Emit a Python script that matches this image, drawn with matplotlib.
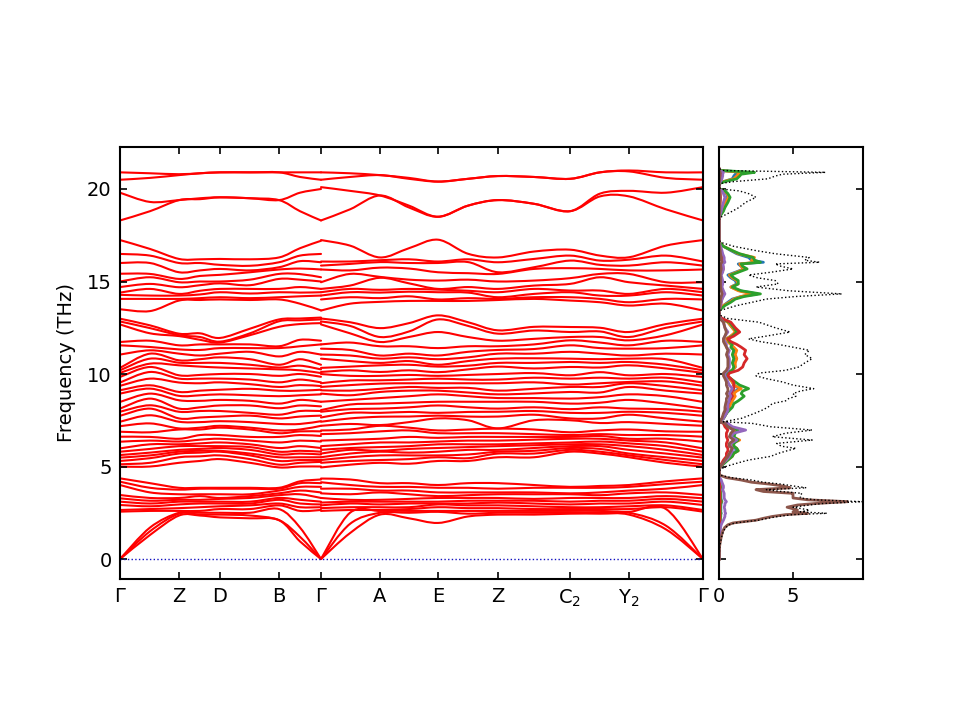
import numpy as np
import matplotlib
matplotlib.use("Agg")
import matplotlib.pyplot as plt
from matplotlib.path import Path
from matplotlib.patches import PathPatch

# ---------------- band-structure data (THz) ----------------
KPATH_LABELS = ["Γ", "Z", "D", "B", "Γ", "A", "E", "Z", "C$_2$", "Y$_2$", "Γ"]
KPATH_NODES = [0, 59, 100, 159, 201, 260, 318, 378, 450, 509, 583]
# sampled k columns (nodes + midpoints); Γ at 201 appears twice (LO-TO jump)
K_COLS = [0, 30, 59, 80, 100, 130, 159, 180, 201,
          201, 230, 260, 289, 318, 348, 378, 414, 450, 480, 509, 546, 583]
SEG_BREAK = 9

TOP_BANDS = [
    [18.3, 19.8, 20.5, 20.9], [18.8, 19.3, 20.6, 20.85], [19.4, 19.4, 20.75, 20.8],
    [19.45, 19.5, 20.85, 20.85], [19.55, 19.55, 20.9, 20.9], [19.5, 19.5, 20.9, 20.9],
    [19.4, 19.4, 20.9, 20.9], [18.8, 19.8, 20.65, 20.9], [18.3, 20.0, 20.5, 20.9],
    [18.3, 20.1, 20.5, 20.9], [18.9, 19.9, 20.65, 20.85], [19.65, 19.65, 20.75, 20.75],
    [19.0, 19.1, 20.55, 20.6], [18.5, 18.5, 20.4, 20.4], [19.1, 19.1, 20.55, 20.55],
    [19.4, 19.4, 20.7, 20.7], [19.2, 19.2, 20.65, 20.65], [18.8, 18.8, 20.55, 20.55],
    [19.6, 19.75, 20.9, 20.9], [19.6, 19.9, 20.95, 21.0], [18.9, 19.8, 20.6, 20.9],
    [18.3, 20.1, 20.5, 20.9],
]

HIGH_BANDS = [
    [13.5, 14.06, 14.28, 14.4, 14.7, 15.0, 15.42, 16.0, 16.49, 17.24],
    [13.4, 14.06, 14.24, 14.6, 14.87, 15.23, 15.41, 16.0, 16.4, 16.76],
    [13.97, 14.06, 14.24, 14.33, 14.69, 14.96, 15.14, 15.5, 16.0, 16.22],
    [14.0, 14.1, 14.3, 14.5, 14.8, 15.0, 15.3, 15.6, 16.0, 16.2],
    [14.03, 14.15, 14.42, 14.6, 14.9, 15.0, 15.36, 15.68, 15.9, 16.22],
    [14.0, 14.1, 14.35, 14.6, 14.8, 15.1, 15.5, 15.6, 15.85, 16.2],
    [14.03, 14.15, 14.42, 14.6, 15.14, 15.41, 15.65, 15.77, 16.04, 16.3],
    [13.8, 14.2, 14.4, 14.7, 15.1, 15.4, 15.7, 16.1, 16.4, 16.8],
    [13.44, 14.24, 14.42, 14.6, 15.0, 15.23, 15.65, 16.04, 16.49, 17.2],
    [13.43, 14.03, 14.24, 14.42, 14.6, 14.96, 15.65, 15.86, 16.08, 17.24],
    [13.8, 14.15, 14.42, 14.6, 14.78, 15.41, 15.6, 15.95, 16.08, 16.94],
    [13.9, 14.1, 14.4, 14.55, 15.2, 15.25, 15.75, 16.05, 16.15, 16.3],
    [13.95, 14.2, 14.45, 14.6, 14.9, 15.1, 15.7, 16.0, 16.2, 16.8],
    [13.95, 14.03, 14.42, 14.56, 14.6, 15.05, 15.5, 16.0, 16.08, 17.26],
    [13.95, 14.1, 14.4, 14.5, 14.7, 15.1, 15.45, 16.05, 16.2, 16.5],
    [14.0, 14.06, 14.15, 14.42, 14.6, 15.0, 15.41, 15.5, 16.04, 16.3],
    [14.06, 14.15, 14.33, 14.6, 14.78, 15.05, 15.68, 15.77, 16.22, 16.62],
    [13.97, 14.15, 14.42, 14.51, 14.87, 15.18, 15.72, 16.13, 16.4, 16.72],
    [13.88, 14.06, 14.24, 14.51, 15.23, 15.41, 15.68, 15.9, 16.13, 16.4],
    [13.7, 13.88, 14.24, 14.33, 14.96, 15.41, 15.6, 15.86, 16.18, 16.31],
    [13.8, 14.06, 14.42, 14.6, 14.78, 14.96, 15.6, 16.04, 16.4, 16.94],
    [13.43, 14.03, 14.24, 14.42, 14.6, 14.96, 15.65, 15.86, 16.08, 17.24],
]

MID_BANDS = [
    [7.18, 7.42, 7.74, 7.96, 8.13, 8.49, 8.94, 9.12, 9.36, 9.54, 9.84, 10.06, 10.2, 10.33, 11.05, 11.55, 11.73, 12.68, 12.84, 12.99],
    [7.33, 7.77, 8.13, 8.31, 8.67, 8.94, 9.21, 9.39, 9.75, 10.11, 10.38, 10.56, 10.83, 11.1, 11.28, 11.46, 11.8, 12.2, 12.48, 12.63],
    [7.06, 7.42, 7.6, 7.96, 8.13, 8.58, 8.82, 9.03, 9.54, 9.75, 9.93, 10.47, 10.61, 10.74, 11.1, 11.33, 11.55, 12.05, 12.1, 12.18],
    [7.1, 7.4, 7.65, 8.0, 8.2, 8.55, 8.85, 9.1, 9.5, 9.75, 9.95, 10.4, 10.6, 10.8, 11.0, 11.3, 11.6, 11.85, 12.0, 12.2],
    [7.2, 7.45, 7.7, 8.0, 8.3, 8.6, 8.9, 9.15, 9.55, 9.75, 10.0, 10.35, 10.6, 10.9, 11.1, 11.4, 11.6, 11.7, 11.75, 11.95],
    [7.1, 7.4, 7.75, 7.9, 8.3, 8.55, 8.85, 9.2, 9.45, 9.7, 10.0, 10.3, 10.5, 10.8, 11.2, 11.4, 11.6, 12.1, 12.2, 12.45],
    [6.95, 7.3, 7.6, 7.8, 8.15, 8.4, 8.8, 9.1, 9.3, 9.55, 9.9, 10.25, 10.35, 10.5, 10.95, 11.4, 11.5, 12.55, 12.85, 12.95],
    [7.0, 7.3, 7.7, 8.0, 8.3, 8.6, 8.85, 9.1, 9.4, 9.7, 10.0, 10.2, 10.45, 10.8, 11.2, 11.5, 11.85, 12.7, 12.9, 13.0],
    [7.2, 7.45, 7.75, 8.0, 8.25, 8.5, 8.9, 9.15, 9.35, 9.55, 9.85, 10.05, 10.25, 10.5, 11.05, 11.6, 11.8, 12.75, 12.95, 13.05],
    [7.2, 7.42, 7.65, 7.96, 8.05, 8.5, 8.94, 9.12, 9.3, 9.5, 10.0, 10.11, 10.33, 10.83, 11.05, 11.37, 11.6, 12.68, 12.84, 13.0],
    [7.3, 7.6, 7.9, 8.1, 8.35, 8.6, 8.85, 9.1, 9.4, 9.65, 9.9, 10.2, 10.4, 10.7, 11.0, 11.3, 11.7, 12.2, 12.6, 12.8],
    [7.24, 7.69, 7.9, 8.13, 8.4, 8.7, 9.03, 9.2, 9.48, 9.66, 9.9, 10.11, 10.47, 10.6, 10.83, 11.0, 11.5, 11.73, 12.0, 12.48],
    [7.4, 7.7, 7.95, 8.2, 8.45, 8.8, 9.1, 9.3, 9.5, 9.7, 9.95, 10.2, 10.5, 10.7, 10.9, 11.1, 11.5, 12.0, 12.3, 12.75],
    [7.6, 7.75, 7.9, 8.3, 8.5, 8.9, 9.1, 9.25, 9.5, 9.75, 9.9, 10.1, 10.4, 10.5, 10.8, 11.0, 11.4, 12.27, 12.95, 13.17],
    [7.5, 7.7, 7.95, 8.2, 8.5, 8.8, 9.0, 9.25, 9.5, 9.7, 9.95, 10.25, 10.45, 10.7, 10.9, 11.2, 11.5, 12.0, 12.6, 12.8],
    [7.06, 7.7, 7.96, 8.13, 8.5, 8.7, 8.9, 9.1, 9.5, 9.7, 10.0, 10.4, 10.6, 10.83, 11.1, 11.3, 11.5, 11.8, 12.18, 12.36],
    [7.5, 7.8, 8.0, 8.2, 8.5, 8.7, 8.95, 9.2, 9.55, 9.8, 10.05, 10.3, 10.6, 10.85, 11.1, 11.35, 11.6, 11.9, 12.35, 12.55],
    [7.5, 7.6, 7.9, 8.1, 8.4, 8.67, 9.03, 9.3, 9.43, 9.75, 9.93, 10.38, 10.65, 10.83, 11.2, 11.55, 11.82, 12.0, 12.27, 12.54],
    [7.35, 7.6, 7.9, 8.2, 8.45, 8.75, 9.0, 9.3, 9.5, 9.8, 10.1, 10.35, 10.6, 10.8, 11.1, 11.4, 11.7, 12.0, 12.3, 12.5],
    [7.4, 7.8, 7.96, 8.13, 8.6, 8.9, 9.3, 9.5, 9.57, 9.75, 9.93, 10.47, 10.65, 10.83, 11.0, 11.37, 11.55, 11.82, 12.0, 12.27],
    [7.3, 7.6, 7.9, 8.1, 8.4, 8.8, 9.1, 9.35, 9.6, 9.8, 10.0, 10.3, 10.5, 10.8, 11.1, 11.4, 11.8, 12.1, 12.5, 12.7],
    [7.2, 7.42, 7.74, 7.96, 8.13, 8.49, 8.94, 9.12, 9.36, 9.54, 9.84, 10.06, 10.2, 10.33, 11.05, 11.55, 11.73, 12.68, 12.84, 12.99],
]

LOWOPT_BANDS = [
    [4.99, 5.12, 5.3, 5.48, 5.62, 5.8, 5.98, 6.34, 6.61, 6.88],
    [5.0, 5.2, 5.45, 5.6, 5.75, 5.95, 6.2, 6.4, 6.6, 6.85],
    [5.2, 5.5, 5.7, 5.8, 5.9, 6.1, 6.2, 6.35, 6.5, 7.0],
    [5.3, 5.55, 5.75, 5.85, 5.95, 6.1, 6.25, 6.45, 6.7, 7.0],
    [5.4, 5.6, 5.8, 5.85, 6.0, 6.1, 6.3, 6.5, 6.7, 7.1],
    [5.2, 5.4, 5.6, 5.7, 5.9, 6.05, 6.2, 6.4, 6.6, 7.0],
    [4.95, 5.1, 5.3, 5.5, 5.65, 5.8, 6.0, 6.3, 6.6, 6.8],
    [5.0, 5.2, 5.35, 5.5, 5.7, 5.85, 6.1, 6.4, 6.7, 6.9],
    [5.0, 5.25, 5.35, 5.5, 5.65, 5.8, 6.0, 6.35, 6.65, 6.9],
    [4.95, 5.2, 5.35, 5.5, 5.7, 5.9, 6.1, 6.4, 6.75, 6.95],
    [5.1, 5.3, 5.5, 5.7, 5.9, 6.0, 6.2, 6.45, 6.8, 7.0],
    [5.2, 5.35, 5.6, 5.8, 5.85, 6.05, 6.3, 6.5, 6.9, 7.2],
    [5.15, 5.4, 5.6, 5.75, 5.95, 6.1, 6.3, 6.6, 6.95, 7.1],
    [5.3, 5.5, 5.6, 5.8, 6.0, 6.2, 6.35, 6.55, 6.8, 6.95],
    [5.3, 5.45, 5.65, 5.9, 6.05, 6.2, 6.4, 6.6, 6.8, 7.0],
    [5.5, 5.7, 5.8, 5.9, 6.1, 6.2, 6.4, 6.6, 6.8, 7.05],
    [5.5, 5.7, 5.85, 6.0, 6.15, 6.25, 6.45, 6.6, 6.75, 7.0],
    [5.8, 5.9, 6.0, 6.1, 6.2, 6.3, 6.5, 6.6, 6.7, 6.85],
    [5.7, 5.8, 5.95, 6.1, 6.2, 6.35, 6.5, 6.65, 6.75, 6.95],
    [5.5, 5.6, 5.7, 5.9, 6.1, 6.25, 6.4, 6.5, 6.7, 7.0],
    [5.2, 5.35, 5.5, 5.7, 5.9, 6.1, 6.3, 6.5, 6.7, 6.9],
    [4.99, 5.12, 5.3, 5.48, 5.62, 5.8, 5.98, 6.34, 6.61, 6.88],
]

LOW_BANDS = [
    [0, 0, 0, 2.56, 2.65, 2.92, 3.1, 3.28, 3.46, 4.0, 4.18, 4.36],
    [1.3, 1.5, 1.7, 2.6, 2.7, 2.85, 3.0, 3.15, 3.3, 3.6, 3.85, 4.1],
    [2.35, 2.45, 2.5, 2.6, 2.75, 2.95, 3.1, 3.2, 3.3, 3.5, 3.75, 3.85],
    [2.35, 2.4, 2.5, 2.6, 2.8, 3.0, 3.1, 3.2, 3.4, 3.5, 3.8, 3.85],
    [2.25, 2.4, 2.5, 2.7, 2.85, 3.0, 3.1, 3.25, 3.3, 3.5, 3.8, 3.85],
    [2.2, 2.35, 2.5, 2.7, 2.9, 3.0, 3.1, 3.3, 3.4, 3.5, 3.8, 3.85],
    [2.1, 2.1, 2.7, 2.9, 3.0, 3.2, 3.3, 3.45, 3.55, 3.7, 3.8, 3.85],
    [0.95, 1.2, 1.7, 2.6, 2.8, 3.0, 3.2, 3.5, 3.7, 3.9, 4.1, 4.2],
    [0, 0, 0, 2.65, 2.8, 2.95, 3.1, 3.3, 3.6, 3.9, 4.1, 4.3],
    [0, 0, 0, 2.6, 2.75, 2.9, 3.05, 3.3, 3.55, 3.8, 4.15, 4.35],
    [1.4, 1.9, 2.5, 2.65, 2.8, 3.0, 3.1, 3.2, 3.5, 3.8, 4.0, 4.3],
    [2.4, 2.5, 2.6, 2.65, 2.8, 2.95, 3.1, 3.2, 3.6, 3.7, 3.9, 4.1],
    [2.2, 2.5, 2.6, 2.7, 2.8, 3.0, 3.1, 3.25, 3.5, 3.7, 3.9, 4.1],
    [1.95, 2.55, 2.6, 2.8, 2.95, 3.0, 3.1, 3.3, 3.4, 3.6, 3.85, 4.0],
    [2.3, 2.45, 2.6, 2.75, 2.9, 3.0, 3.15, 3.3, 3.45, 3.6, 3.85, 4.1],
    [2.4, 2.5, 2.6, 2.75, 2.9, 3.05, 3.15, 3.3, 3.5, 3.6, 3.8, 4.1],
    [2.4, 2.5, 2.6, 2.7, 2.85, 3.0, 3.15, 3.25, 3.5, 3.6, 3.85, 4.0],
    [2.45, 2.5, 2.6, 2.7, 2.8, 2.95, 3.1, 3.3, 3.5, 3.55, 3.85, 3.9],
    [2.45, 2.5, 2.6, 2.7, 2.8, 3.0, 3.15, 3.3, 3.45, 3.6, 3.85, 3.95],
    [2.4, 2.5, 2.55, 2.7, 2.85, 3.0, 3.15, 3.3, 3.55, 3.7, 3.9, 4.0],
    [1.6, 1.8, 2.7, 2.8, 2.9, 3.1, 3.25, 3.4, 3.6, 3.8, 4.05, 4.2],
    [0, 0, 0, 2.56, 2.65, 2.92, 3.1, 3.28, 3.46, 4.0, 4.18, 4.36],
]

# ---------------- DOS data ----------------
DOS_FREQ = [
    0.0, 0.7, 1.2, 1.5, 1.7, 1.85, 1.95, 2.1, 2.2, 2.3, 2.4, 2.47, 2.55, 2.65, 2.8, 2.92,
    3.0, 3.1, 3.2, 3.3, 3.45, 3.55, 3.65, 3.75, 3.85, 3.95, 4.05, 4.15, 4.27, 4.4, 4.54, 4.7,
    4.85, 5.0, 5.2, 5.35, 5.55, 5.71, 5.85, 5.98, 6.1, 6.25, 6.43, 6.61, 6.8, 6.97, 7.15, 7.33, 7.42,
    7.6, 7.87, 8.04, 8.2, 8.4, 8.55, 8.67, 8.8, 8.94, 9.08, 9.21, 9.4, 9.57, 9.75, 9.9, 10.05,
    10.2, 10.38, 10.6, 10.83, 11.05, 11.28, 11.45, 11.6, 11.75, 11.9, 12.05, 12.27, 12.5, 12.8, 13.0, 13.2,
    13.44, 13.7, 13.88, 14.05, 14.19, 14.33, 14.5, 14.7, 14.87, 15.05, 15.2, 15.35,
    15.5, 15.68, 15.82, 15.95, 16.04, 16.15, 16.3, 16.5, 16.67, 16.9, 17.12, 17.3,
    18.3, 18.47, 18.8, 19.0, 19.28, 19.55, 19.75, 19.9, 20.0, 20.15, 20.3, 20.4, 20.55, 20.7, 20.8, 20.9, 21.0, 21.1,
]
DOS_TOTAL = [
    0.0, 0.05, 0.18, 0.3, 0.45, 0.7, 1.1, 2.7, 3.3, 4.0, 5.0, 7.3, 5.5, 6.1, 5.0, 6.1,
    7.0, 9.7, 6.5, 5.5, 5.5, 5.6, 4.2, 3.2, 5.9, 5.0, 4.2, 3.0, 2.2, 0.8, 0.05, 0.0,
    0.1, 0.45, 1.3, 2.0, 3.5, 4.0, 4.6, 5.2, 4.2, 3.9, 6.3, 3.6, 4.5, 6.3, 3.5, 2.25, 0.3,
    1.5, 2.4, 2.9, 3.3, 3.6, 4.5, 4.7, 5.2, 5.0, 5.5, 6.4, 5.0, 4.3, 3.2, 2.5, 2.7,
    4.5, 5.4, 5.8, 6.3, 5.8, 6.1, 5.0, 4.0, 2.8, 2.0, 3.2, 4.8, 3.8, 2.7, 0.6, 0.0,
    0.1, 1.2, 2.25, 3.2, 5.2, 8.3, 4.7, 2.5, 4.0, 3.8, 2.6, 2.0,
    3.5, 5.0, 4.2, 3.8, 6.8, 5.8, 6.1, 3.8, 2.5, 1.0, 0.1, 0.0,
    0.0, 0.1, 0.9, 1.35, 1.8, 2.5, 2.0, 1.35, 0.1, 0.0, 0.1, 1.0, 3.3, 3.8, 4.3, 7.2, 0.3, 0.0,
]
PDOS_C0 = [
    0, 0.02, 0.04, 0.05, 0.06, 0.07, 0.08, 0.1, 0.1, 0.12, 0.12, 0.15, 0.12, 0.13, 0.12, 0.13,
    0.14, 0.2, 0.15, 0.13, 0.13, 0.13, 0.1, 0.08, 0.12, 0.1, 0.08, 0.07, 0.05, 0.02, 0, 0,
    0.02, 0.1, 0.3, 0.5, 0.8, 0.9, 1.2, 1.1, 0.9, 0.8, 1.2, 0.8, 1.0, 1.0, 0.6, 0.4, 0.05,
    0.3, 0.5, 0.6, 0.7, 0.7, 0.9, 0.9, 1.0, 1.0, 1.1, 1.4, 1.0, 0.9, 0.7, 0.5, 0.5,
    0.9, 1.1, 1.0, 1.2, 1.0, 1.1, 0.9, 0.8, 0.6, 0.5, 0.8, 1.2, 0.9, 0.6, 0.15, 0,
    0.02, 0.3, 0.6, 0.9, 1.5, 2.6, 1.4, 0.8, 1.2, 1.1, 0.8, 0.6,
    1.1, 1.7, 1.5, 1.3, 3.0, 2.2, 2.0, 1.2, 0.8, 0.3, 0.02, 0,
    0, 0.02, 0.2, 0.3, 0.4, 0.6, 0.5, 0.3, 0.02, 0, 0.02, 0.3, 0.9, 1.0, 1.1, 1.8, 0.1, 0,
]
PDOS_C1 = [
    0, 0.02, 0.03, 0.04, 0.05, 0.06, 0.07, 0.08, 0.08, 0.1, 0.1, 0.12, 0.1, 0.1, 0.1, 0.1,
    0.11, 0.16, 0.12, 0.1, 0.1, 0.1, 0.08, 0.06, 0.1, 0.08, 0.06, 0.05, 0.04, 0.02, 0, 0,
    0.02, 0.1, 0.3, 0.6, 0.9, 1.0, 1.3, 1.2, 1.0, 0.9, 1.4, 0.9, 1.0, 1.1, 0.7, 0.5, 0.05,
    0.3, 0.5, 0.6, 0.7, 0.8, 0.9, 1.0, 1.1, 1.0, 1.2, 1.5, 1.0, 0.9, 0.7, 0.5, 0.6,
    0.9, 1.1, 1.1, 1.2, 1.1, 1.2, 1.0, 0.8, 0.6, 0.5, 0.8, 1.1, 0.9, 0.6, 0.15, 0,
    0.02, 0.3, 0.7, 1.0, 1.5, 2.2, 1.3, 0.8, 1.3, 1.2, 0.9, 0.7,
    1.2, 1.7, 1.5, 1.4, 2.5, 2.2, 2.4, 1.3, 0.9, 0.3, 0.02, 0,
    0, 0.02, 0.25, 0.35, 0.45, 0.65, 0.55, 0.35, 0.02, 0, 0.02, 0.3, 1.0, 1.2, 1.3, 1.5, 0.1, 0,
]
PDOS_C2 = [
    0, 0.02, 0.03, 0.04, 0.05, 0.06, 0.07, 0.08, 0.08, 0.1, 0.1, 0.12, 0.1, 0.1, 0.1, 0.1,
    0.11, 0.16, 0.12, 0.1, 0.1, 0.1, 0.08, 0.06, 0.1, 0.08, 0.06, 0.05, 0.04, 0.02, 0, 0,
    0.02, 0.1, 0.4, 0.6, 0.9, 1.0, 1.3, 1.2, 1.0, 1.0, 1.3, 1.0, 1.1, 1.3, 0.8, 0.5, 0.05,
    0.3, 0.5, 0.7, 0.9, 1.0, 1.3, 1.5, 1.7, 1.5, 1.6, 2.0, 1.4, 1.1, 0.8, 0.5, 0.5,
    0.9, 1.0, 0.9, 1.0, 0.9, 1.0, 0.8, 0.9, 0.7, 0.6, 0.9, 1.2, 1.0, 0.7, 0.15, 0,
    0.02, 0.4, 0.8, 1.1, 1.7, 2.8, 1.5, 0.9, 1.3, 1.3, 1.0, 0.8,
    1.3, 1.9, 1.6, 1.5, 2.8, 2.4, 2.3, 1.4, 0.9, 0.3, 0.02, 0,
    0, 0.02, 0.3, 0.4, 0.6, 0.75, 0.6, 0.4, 0.02, 0, 0.02, 0.4, 1.2, 1.4, 1.5, 2.4, 0.1, 0,
]
PDOS_C3 = [
    0, 0.01, 0.02, 0.03, 0.03, 0.04, 0.04, 0.05, 0.05, 0.06, 0.06, 0.07, 0.06, 0.06, 0.06, 0.06,
    0.07, 0.09, 0.07, 0.06, 0.06, 0.06, 0.05, 0.04, 0.06, 0.05, 0.04, 0.03, 0.02, 0.01, 0, 0,
    0.01, 0.05, 0.2, 0.3, 0.5, 0.5, 0.6, 0.6, 0.5, 0.5, 0.6, 0.5, 0.5, 0.6, 0.4, 0.3, 0.03,
    0.2, 0.4, 0.5, 0.6, 0.6, 0.7, 0.8, 0.9, 0.8, 0.9, 1.0, 1.0, 1.0, 0.8, 0.6, 0.7,
    1.3, 1.6, 1.7, 1.9, 1.7, 1.8, 1.5, 1.2, 0.8, 0.6, 1.0, 1.4, 1.1, 0.8, 0.2, 0,
    0.01, 0.1, 0.15, 0.2, 0.25, 0.35, 0.25, 0.15, 0.2, 0.2, 0.15, 0.1,
    0.2, 0.3, 0.25, 0.2, 0.35, 0.3, 0.3, 0.2, 0.15, 0.05, 0.01, 0,
    0, 0.01, 0.05, 0.06, 0.08, 0.1, 0.08, 0.06, 0.01, 0, 0.01, 0.05, 0.1, 0.12, 0.12, 0.15, 0.02, 0,
]
PDOS_C4 = [
    0, 0.02, 0.05, 0.08, 0.1, 0.15, 0.2, 0.3, 0.35, 0.4, 0.4, 0.45, 0.4, 0.4, 0.35, 0.4,
    0.4, 0.5, 0.4, 0.35, 0.35, 0.35, 0.3, 0.25, 0.3, 0.3, 0.25, 0.2, 0.15, 0.05, 0, 0,
    0.02, 0.1, 0.3, 0.5, 0.7, 0.8, 0.9, 0.9, 0.8, 0.8, 1.2, 0.8, 1.0, 1.8, 0.9, 0.6, 0.05,
    0.3, 0.5, 0.6, 0.6, 0.6, 0.7, 0.7, 0.8, 0.7, 0.8, 0.9, 0.7, 0.6, 0.5, 0.4, 0.4,
    0.6, 0.7, 0.7, 0.7, 0.6, 0.7, 0.5, 0.5, 0.4, 0.3, 0.4, 0.6, 0.4, 0.3, 0.1, 0,
    0.01, 0.1, 0.15, 0.2, 0.3, 0.4, 0.3, 0.2, 0.25, 0.25, 0.2, 0.15,
    0.25, 0.3, 0.3, 0.25, 0.4, 0.35, 0.35, 0.25, 0.2, 0.1, 0.01, 0,
    0, 0.01, 0.15, 0.2, 0.3, 0.4, 0.3, 0.2, 0.01, 0, 0.01, 0.1, 0.2, 0.25, 0.25, 0.3, 0.05, 0,
]
PDOS_C5 = [
    0.0, 0.04, 0.15, 0.25, 0.38, 0.6, 0.95, 2.5, 3.0, 3.6, 4.5, 6.0, 5.0, 5.3, 4.6, 5.3,
    6.5, 8.7, 6.0, 5.0, 5.0, 5.0, 3.0, 2.5, 4.8, 4.3, 3.4, 2.2, 1.5, 0.5, 0.03, 0,
    0.02, 0.1, 0.3, 0.4, 0.6, 0.7, 0.8, 0.9, 0.7, 0.7, 1.0, 0.7, 0.8, 1.0, 0.6, 0.4, 0.05,
    0.2, 0.3, 0.4, 0.4, 0.45, 0.5, 0.5, 0.6, 0.5, 0.6, 0.6, 0.5, 0.5, 0.4, 0.3, 0.3,
    0.5, 0.6, 0.6, 0.6, 0.5, 0.6, 0.5, 0.4, 0.3, 0.3, 0.4, 0.5, 0.4, 0.3, 0.05, 0,
    0.01, 0.05, 0.1, 0.1, 0.15, 0.2, 0.15, 0.1, 0.1, 0.1, 0.1, 0.08,
    0.1, 0.15, 0.12, 0.1, 0.2, 0.15, 0.15, 0.1, 0.08, 0.03, 0.01, 0,
    0, 0.01, 0.05, 0.05, 0.06, 0.08, 0.07, 0.05, 0.01, 0, 0.01, 0.03, 0.05, 0.06, 0.06, 0.08, 0.01, 0,
]
PDOS_SERIES = [PDOS_C0, PDOS_C1, PDOS_C2, PDOS_C3, PDOS_C4, PDOS_C5]
PDOS_COLORS = ["tab:blue", "tab:orange", "tab:green", "tab:red", "tab:purple", "tab:brown"]


def smooth_path(xs, ys):
    """Cubic Bezier path passing through every read point (rendered by matplotlib)."""
    pts = np.column_stack([xs, ys]).astype(float)
    n = len(pts)
    verts = [pts[0]]
    codes = [Path.MOVETO]
    for i in range(n - 1):
        p0 = pts[i - 1] if i > 0 else pts[i]
        p1, p2 = pts[i], pts[i + 1]
        p3 = pts[i + 2] if i + 2 < n else pts[i + 1]
        c1 = p1 + (p2 - p0) / 6.0
        c2 = p2 - (p3 - p1) / 6.0
        # keep the x of the control points inside the segment
        c1[0] = min(max(c1[0], p1[0]), p2[0])
        c2[0] = min(max(c2[0], p1[0]), p2[0])
        verts += [c1, c2, p2]
        codes += [Path.CURVE4, Path.CURVE4, Path.CURVE4]
    return Path(verts, codes)


# ---------------- figure ----------------
plt.rcParams["font.family"] = ["DejaVu Sans"]
fig = plt.figure(figsize=(9.6, 7.2), dpi=100)
ax = fig.add_axes([120 / 960, 1 - 579 / 720, 583 / 960, 432 / 720])
axd = fig.add_axes([719 / 960, 1 - 579 / 720, 144 / 960, 432 / 720])

freqs = np.sort(np.hstack([np.array(LOW_BANDS), np.array(LOWOPT_BANDS), np.array(MID_BANDS),
                           np.array(HIGH_BANDS), np.array(TOP_BANDS)]), axis=1)
k = np.array(K_COLS, dtype=float)
for seg in (slice(0, SEG_BREAK), slice(SEG_BREAK, len(K_COLS))):
    for b in range(freqs.shape[1]):
        patch = PathPatch(smooth_path(k[seg], freqs[seg, b]), facecolor="none",
                          edgecolor="red", lw=1.5, capstyle="round", joinstyle="round")
        ax.add_patch(patch)
ax.plot([KPATH_NODES[0], KPATH_NODES[-1]], [0, 0], color="#1010c0", lw=1.0, ls=":")

ylim = (-1.08, 22.27)
ax.set_xlim(KPATH_NODES[0], KPATH_NODES[-1])
ax.set_ylim(*ylim)
ax.set_xticks(KPATH_NODES)
ax.set_xticklabels(KPATH_LABELS)
ax.set_yticks([0, 5, 10, 15, 20])
ax.set_ylabel("Frequency (THz)", fontsize=14, labelpad=8)
ax.tick_params(direction="in", top=True, right=True, labelsize=14, width=1.2, length=5, pad=6)

fq = np.array(DOS_FREQ)
for vals, col in zip(PDOS_SERIES, PDOS_COLORS):
    axd.plot(vals, fq, color=col, lw=2)
axd.plot(DOS_TOTAL, fq, color="black", lw=1, ls=":")
axd.set_ylim(*ylim)
axd.set_xlim(0, 9.73)
axd.set_xticks([0, 5])
axd.set_yticks([0, 5, 10, 15, 20])
axd.set_yticklabels([])
axd.tick_params(direction="in", top=True, right=True, labelsize=14, width=1.2, length=5, pad=6)

for a in (ax, axd):
    for s in a.spines.values():
        s.set_linewidth(1.5)

fig.savefig("out.png", dpi=100)
